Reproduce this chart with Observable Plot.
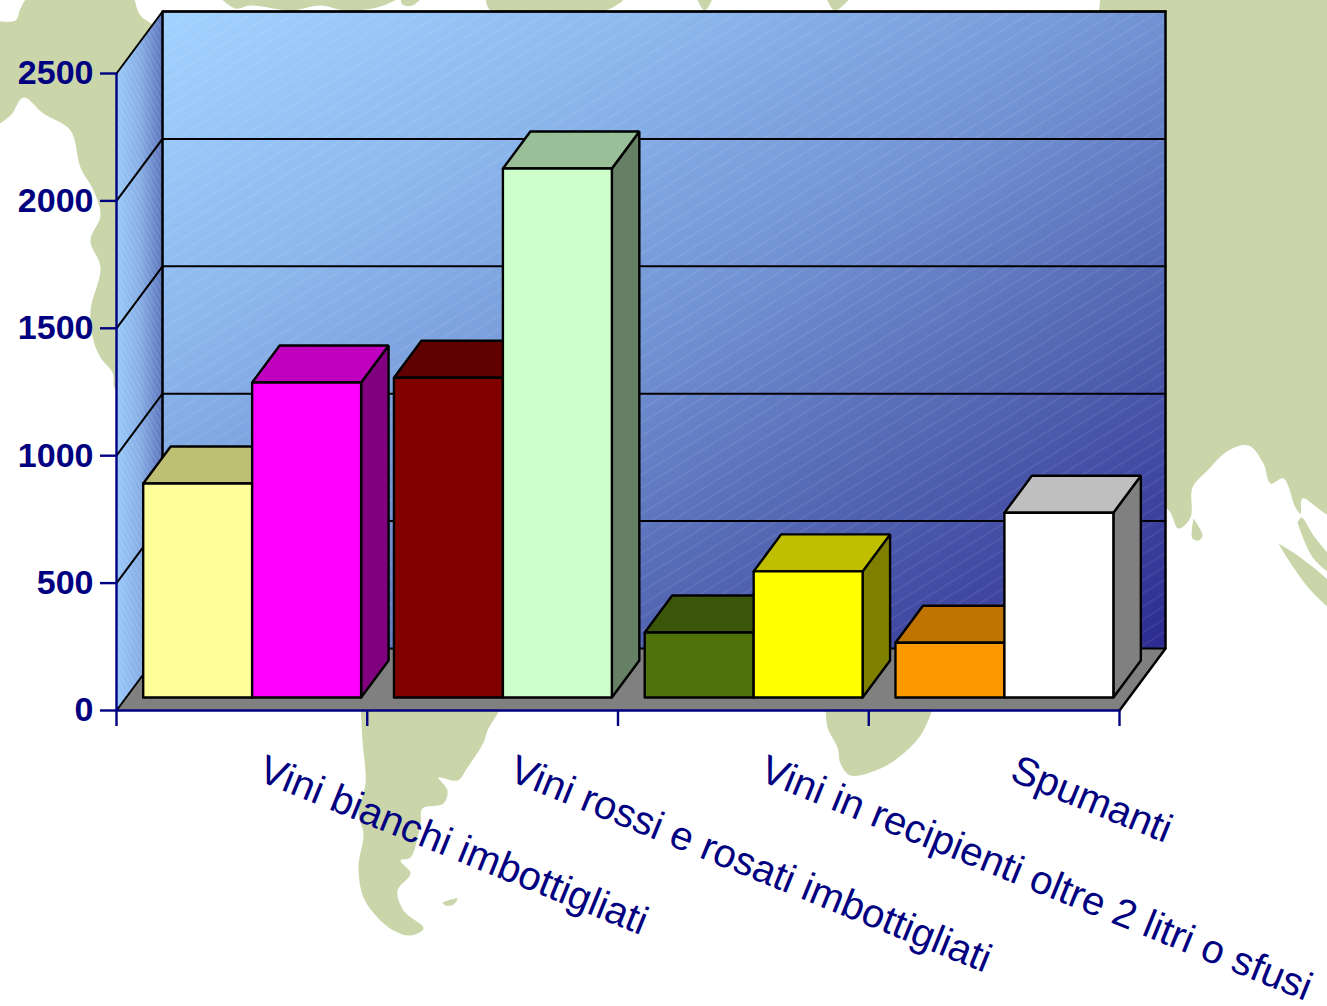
<!DOCTYPE html>
<html><head><meta charset="utf-8">
<style>html,body{margin:0;padding:0;background:#fff}svg{display:block;background:transparent!important}</style>
<script src="https://cdn.jsdelivr.net/npm/d3@7"></script>
<script src="https://cdn.jsdelivr.net/npm/@observablehq/plot@0.6"></script>
</head><body>
<script>
const categories = ["Vini bianchi imbottigliati","Vini rossi e rosati imbottigliati","Vini in recipienti oltre 2 litri o sfusi","Spumanti"];
const firstValues = [840,1255,255,215];
const secondValues = [1236,2076,495,725];
const firstFront = ["#FFFF99","#800000","#4F720B","#FF9900"];
const firstTop = ["#BFBF73","#600000","#3B5608","#BF7300"];
const firstSide = ["#808050","#400000","#283A05","#804D00"];
const secondFront = ["#FF00FF","#CCFFCC","#FFFF00","#FFFFFF"];
const secondTop = ["#BF00BF","#99BF99","#BFBF00","#BFBFBF"];
const secondSide = ["#800080","#668066","#808000","#808080"];
const yTicks = [0,500,1000,1500,2000,2500];
const xTicks = [0,1,2,3,4];

// Background world-map land, traced in map units
const landMap = [
 [[-5,20],[15,20],[20,8],[30,-5],[130,-5],[140,15],[200,60],[200,390],[116,390],[112,372],[100,357],[93,340],[90,310],[100,267],[90,240],[100,215],[93,190],[80,167],[70,130],[43,113],[23,97],[10,115],[-5,123]],
 [[400,-5],[422,-5],[412,5],[402,4]],
 [[485,-5],[625,-5],[605,10],[490,10]],
 [[695,-5],[712,-5],[704,10]],
 [[825,-5],[850,-5],[834,10]],
 [[217,-5],[400,-5],[380,6],[345,10],[320,5],[290,10],[250,5],[235,8]],
 [[1100,-5],[1335,-5],[1335,515],[1302,498],[1300,513],[1295,507],[1283,478],[1270,483],[1263,463],[1248,445],[1228,450],[1207,470],[1192,487],[1190,517],[1178,528],[1166,508],[1100,508]],
 [[1193,518],[1202,535],[1198,540],[1192,538]],
 [[1297,522],[1301,517],[1313,535],[1335,565],[1335,575],[1313,558]],
 [[1278,543],[1300,557],[1335,590],[1335,610],[1313,593],[1293,567]],
 [[360,700],[500,700],[487,730],[483,742],[467,767],[457,780],[438,777],[447,790],[443,803],[422,808],[420,823],[410,857],[400,860],[410,873],[397,890],[403,910],[423,928],[410,935],[393,930],[377,917],[363,897],[358,867],[363,833],[358,813],[365,783],[362,740]],
 [[442,902],[457,898],[453,904],[445,905]],
 [[825,700],[930,700],[923,730],[903,753],[880,768],[850,775],[840,763],[837,747],[827,727]]
];
const landFill = "#CAD6A9";

// Oblique depth of the chart box, in scale units
const DX = 0.1835, DY = 243.3;
const gap = 0.068, barW = 0.4345, zFront = 0.21, zBack = 0.807;
const P = (x, v, z = 0) => ({x: x + z * DX, y: v + z * DY});
const closed = a => [...a, a[0]];
const poly = (pts, o) => Plot.line(closed(pts), {x: "x", y: "y", curve: "linear", strokeLinejoin: "miter", ...o});
const fromMap = ([px, py]) => ({x: (px - 116) / 250.75, y: (710 - py) / 637 * 2500});

const defs = () => {
  const g = d3.create("svg:g");
  g.html(`<defs>
  <linearGradient id="wallG" x1="0" y1="0" x2="1" y2="1">
    <stop offset="0" stop-color="#A2D2FF"/><stop offset="0.25" stop-color="#8DB9EE"/>
    <stop offset="0.5" stop-color="#7293D3"/><stop offset="0.75" stop-color="#4E5FAE"/>
    <stop offset="1" stop-color="#2C2A90"/></linearGradient>
  <linearGradient id="sideG" x1="0" y1="0" x2="1" y2="0">
    <stop offset="0" stop-color="#99C9FA"/><stop offset="0.5" stop-color="#86AEE6"/>
    <stop offset="1" stop-color="#5C74BC"/></linearGradient>
  <pattern id="hatch" patternUnits="userSpaceOnUse" width="21" height="13">
    <path d="M-2,14 L23,-1" stroke="#fff" stroke-opacity="0.14" stroke-width="1" fill="none"/></pattern>
  <pattern id="sideH" patternUnits="userSpaceOnUse" width="5" height="9">
    <path d="M0,0 L5,9" stroke="#fff" stroke-opacity="0.2" stroke-width="1" fill="none"/></pattern>
  </defs>`);
  return g.node();
};

const marks = [defs];
for (const l of landMap) marks.push(poly(l.map(fromMap), {fill: landFill, stroke: "none", curve: "catmull-rom"}));

// Floor and walls
marks.push(poly([P(0,0),P(4,0),P(4,0,1),P(0,0,1)], {fill: "#808080", stroke: "none"}));
const wallBack = [P(0,0,1),P(4,0,1),P(4,2500,1),P(0,2500,1)];
const wallSide = [P(0,0),P(0,0,1),P(0,2500,1),P(0,2500)];
marks.push(poly(wallBack, {fill: "url(#wallG)", stroke: "none"}));
marks.push(poly(wallBack, {fill: "url(#hatch)", stroke: "none"}));
marks.push(poly(wallSide, {fill: "url(#sideG)", stroke: "none"}));
marks.push(poly(wallSide, {fill: "url(#sideH)", stroke: "none"}));
// Gridlines
for (const t of yTicks) {
  marks.push(Plot.line([P(0,t),P(0,t,1),...(t ? [P(4,t,1)] : [])], {x:"x",y:"y",stroke:"#000",strokeWidth:2,curve:"linear"}));
}
marks.push(Plot.line([P(4,0),P(4,0,1),P(4,2500,1)], {x:"x",y:"y",stroke:"#000",strokeWidth:2.5,curve:"linear"}));
marks.push(Plot.line([P(0,0,1),P(4,0,1)], {x:"x",y:"y",stroke:"#000",strokeWidth:2,curve:"linear"}));
marks.push(Plot.line([P(0,0,1),P(0,2500,1),P(4,2500,1)], {x:"x",y:"y",stroke:"#000",strokeWidth:2.5,curve:"linear"}));

// Bars
function bar(x0, x1, v, front, top, side) {
  const o = {stroke: "#000", strokeWidth: 2.4};
  marks.push(poly([P(x1,0,zFront),P(x1,0,zBack),P(x1,v,zBack),P(x1,v,zFront)], {fill: side, ...o}));
  marks.push(poly([P(x0,v,zFront),P(x1,v,zFront),P(x1,v,zBack),P(x0,v,zBack)], {fill: top, ...o}));
  marks.push(poly([P(x0,0,zFront),P(x1,0,zFront),P(x1,v,zFront),P(x0,v,zFront)], {fill: front, ...o}));
}
categories.forEach((c, i) => {
  const a = i + gap, b = a + barW, e = b + barW;
  bar(a, b, firstValues[i], firstFront[i], firstTop[i], firstSide[i]);
  bar(b, e, secondValues[i], secondFront[i], secondTop[i], secondSide[i]);
});

// Axes
marks.push(Plot.ruleX([0], {stroke: "#000080", strokeWidth: 2.4}));
marks.push(Plot.ruleY([0], {stroke: "#000080", strokeWidth: 2.4}));
marks.push(Plot.axisY({ticks: yTicks, tickFormat: d => String(d), tickSize: 16, tickPadding: 7, color: "#000080", strokeWidth: 2.4, fontSize: 34, fontWeight: "bold", label: null}));
marks.push(Plot.axisX({ticks: xTicks, tickFormat: () => "", tickSize: 16, color: "#000080", strokeWidth: 2.4, label: null}));
marks.push(Plot.text(categories, {
  x: (d, i) => i + 0.5, y: () => 0, text: d => d,
  rotate: 22, textAnchor: "start", lineAnchor: "top",
  dx: 25, dy: 43, fill: "#000080", fontSize: 40
}));

const chart = Plot.plot({
  width: 1327, height: 1006,
  marginLeft: 116, marginRight: 208, marginTop: 73, marginBottom: 296,
  x: {domain: [0, 4], axis: null},
  y: {domain: [0, 2500], axis: null},
  style: {fontFamily: "'Liberation Sans', Arial, sans-serif", background: "transparent", overflow: "hidden"},
  marks
});
document.body.appendChild(chart);
</script>
</body></html>
